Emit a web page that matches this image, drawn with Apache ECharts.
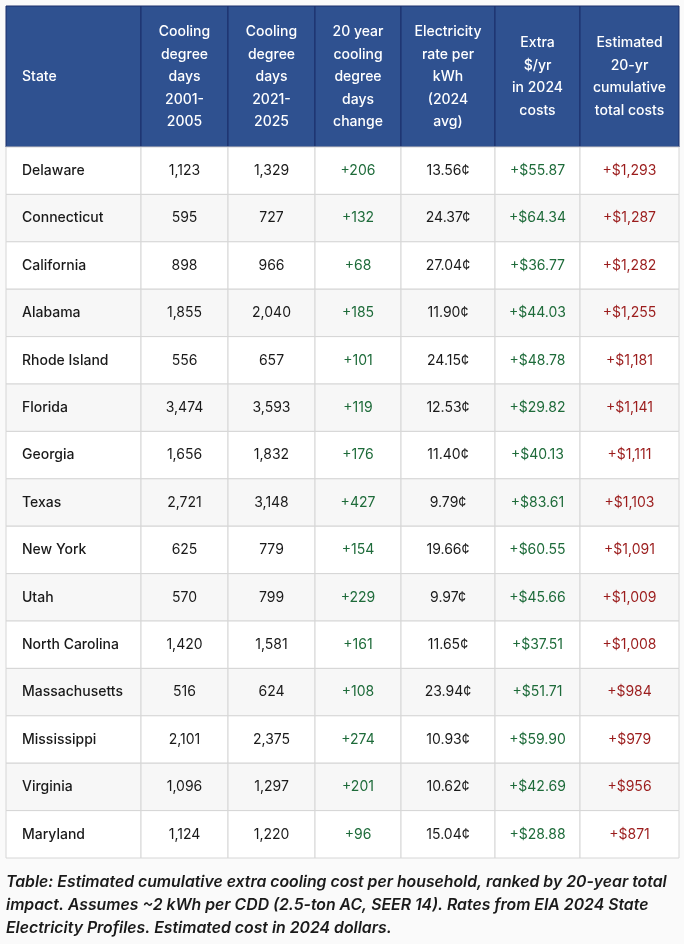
<!DOCTYPE html>
<html><head><meta charset="utf-8">
<script src="https://cdn.jsdelivr.net/npm/echarts@6/dist/echarts.min.js"></script>
<style>html,body{margin:0;background:#fafafa}#c{width:684px;height:944px}</style>
</head><body><div id="c"></div>
<script>
const headers = ['State', 'Cooling\ndegree\ndays\n2001-\n2005', 'Cooling\ndegree\ndays\n2021-\n2025',
    '20 year\ncooling\ndegree\ndays\nchange', 'Electricity\nrate per\nkWh\n(2024\navg)', 'Extra\n$/yr\nin 2024\ncosts',
    'Estimated\n20-yr\ncumulative\ntotal costs'];
const states = ['Delaware', 'Connecticut', 'California', 'Alabama', 'Rhode Island', 'Florida', 'Georgia', 'Texas',
    'New York', 'Utah', 'North Carolina', 'Massachusetts', 'Mississippi', 'Virginia', 'Maryland'];
const cdd2001 = ['1,123', '595', '898', '1,855', '556', '3,474', '1,656', '2,721', '625', '570', '1,420', '516', '2,101', '1,096', '1,124'];
const cdd2021 = ['1,329', '727', '966', '2,040', '657', '3,593', '1,832', '3,148', '779', '799', '1,581', '624', '2,375', '1,297', '1,220'];
const cddChange = ['+206', '+132', '+68', '+185', '+101', '+119', '+176', '+427', '+154', '+229', '+161', '+108', '+274', '+201', '+96'];
const rate = ['13.56¢', '24.37¢', '27.04¢', '11.90¢', '24.15¢', '12.53¢', '11.40¢', '9.79¢', '19.66¢', '9.97¢', '11.65¢', '23.94¢', '10.93¢', '10.62¢', '15.04¢'];
const extraYr = ['+$55.87', '+$64.34', '+$36.77', '+$44.03', '+$48.78', '+$29.82', '+$40.13', '+$83.61', '+$60.55', '+$45.66', '+$37.51', '+$51.71', '+$59.90', '+$42.69', '+$28.88'];
const total20 = ['+$1,293', '+$1,287', '+$1,282', '+$1,255', '+$1,181', '+$1,141', '+$1,111', '+$1,103', '+$1,091', '+$1,009', '+$1,008', '+$984', '+$979', '+$956', '+$871'];
const caption = 'Table: Estimated cumulative extra cooling cost per household, ranked by 20-year total\nimpact. Assumes ~2 kWh per CDD (2.5-ton AC, SEER 14). Rates from EIA 2024 State\nElectricity Profiles. Estimated cost in 2024 dollars.';

const colEdges = [0, 135, 222, 309, 395, 489, 574, 673];
const columns = [states, cdd2001, cdd2021, cddChange, rate, extraYr, total20];
const colColors = ['#1a1a1a', '#1a1a1a', '#1a1a1a', '#1e6b3a', '#1a1a1a', '#1e6b3a', '#9b1c1c'];
const font = 'Inter, "Noto Sans", sans-serif';

// cells: [row, col] -> drawn through the axes
const cells = [];
states.forEach((s, r) => columns.forEach((c, k) => cells.push([r, k])));

const chart = echarts.init(document.getElementById('c'));

const headerGraphics = headers.map((h, k) => ({
    type: 'group',
    children: [
        { type: 'rect', shape: { x: 6 + colEdges[k], y: 6, width: colEdges[k + 1] - colEdges[k], height: 141 },
          style: { fill: '#2f5190', stroke: '#1b2f6b', lineWidth: 1 } },
        { type: 'text', x: k === 0 ? 22 : 6 + (colEdges[k] + colEdges[k + 1]) / 2, y: 77,
          style: { text: h, fill: '#fff', font: '500 14px ' + font, lineHeight: 22.5,
                   align: k === 0 ? 'left' : 'center', verticalAlign: 'middle' } }
    ]
}));

chart.setOption({
    animation: false,
    grid: { left: 6, top: 147, width: 673, height: 711 },
    xAxis: { type: 'value', min: 0, max: 673, show: false },
    yAxis: { type: 'category', data: states, inverse: true, show: false },
    graphic: headerGraphics.concat([{
        type: 'text', left: 6, top: 871,
        style: { text: caption, fill: '#1a1a1a', font: 'italic 600 15.8px ' + font, lineHeight: 23 }
    }]),
    series: [{
        type: 'custom',
        data: cells,
        renderItem: (params, api) => {
            const r = api.value(0), k = api.value(1);
            const p0 = api.coord([colEdges[k], r]);
            const p1 = api.coord([colEdges[k + 1], r]);
            const h = api.size([0, 1])[1];
            const x = p0[0], y = p0[1] - h / 2, w = p1[0] - p0[0];
            return {
                type: 'group',
                children: [
                    { type: 'rect', shape: { x, y, width: w, height: h },
                      style: { fill: r % 2 ? '#f7f7f7' : '#ffffff', stroke: '#d6d6d6', lineWidth: 1 } },
                    { type: 'text', x: k === 0 ? x + 16 : x + w / 2, y: p0[1],
                      style: { text: columns[k][r], fill: colColors[k], font: (k === 0 ? '500 ' : '400 ') + '14px ' + font,
                               align: k === 0 ? 'left' : 'center', verticalAlign: 'middle' } }
                ]
            };
        }
    }]
});
</script></body></html>
